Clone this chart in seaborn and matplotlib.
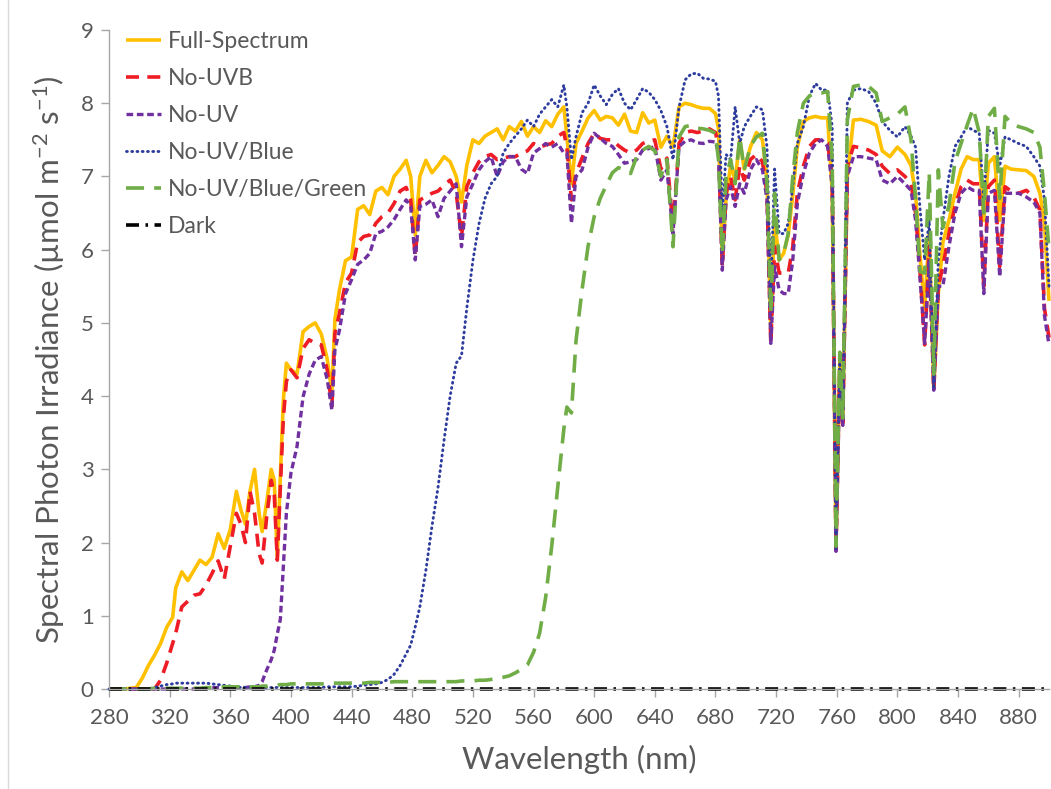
import matplotlib
matplotlib.use("Agg")
import matplotlib.pyplot as plt
import seaborn as sns
from matplotlib.lines import Line2D

# Wavelength grid (nm)
wavelength = [
    280, 290, 298, 302, 306, 310, 314, 318, 322, 324,
    328, 332, 336, 340, 344, 348, 352, 356, 360, 364,
    367, 370, 373, 376, 379, 381, 384, 387, 389, 391,
    393, 395, 397, 400, 404, 408, 412, 416, 420, 424,
    427, 429, 432, 436, 440, 444, 448, 452, 456, 460,
    464, 468, 472, 476, 479, 482, 485, 489, 493, 497,
    501, 505, 509, 512.5, 516, 520, 524, 528, 532, 536,
    540, 544, 548, 552, 556, 560, 564, 568, 572, 576,
    580, 582, 585, 588, 592, 596, 600, 604, 608, 612,
    616, 620, 624, 628, 632, 636, 640, 644, 648, 652,
    656, 660, 664, 668, 672, 676, 680, 682, 684.5, 687,
    690, 693, 696, 699, 703, 707, 711, 714, 716.5, 719,
    722, 725, 728, 731, 734, 738, 742, 746, 750, 754,
    757, 759.5, 762, 764, 767, 771, 776, 781, 786, 790,
    795, 800, 805, 809, 812, 815, 818, 821, 824, 827,
    830, 834, 838, 842, 846, 850, 854, 857, 860, 864,
    867.5, 871, 875, 880, 885, 890, 894, 897, 900,
]

full_spectrum = [
    0, 0, 0.02, 0.15, 0.32, 0.46, 0.62, 0.84, 0.98, 1.38,
    1.60, 1.48, 1.62, 1.76, 1.70, 1.80, 2.12, 1.92, 2.18, 2.70,
    2.45, 2.25, 2.70, 3.00, 2.40, 2.15, 2.55, 3.00, 2.85, 1.80,
    2.90, 3.95, 4.45, 4.36, 4.30, 4.88, 4.95, 5.00, 4.85, 4.50,
    4.05, 5.05, 5.45, 5.85, 5.90, 6.55, 6.60, 6.48, 6.80, 6.85,
    6.75, 7.00, 7.10, 7.22, 7.00, 6.20, 7.00, 7.22, 7.05, 7.15,
    7.27, 7.20, 7.00, 6.65, 7.15, 7.50, 7.45, 7.55, 7.60, 7.65,
    7.50, 7.68, 7.62, 7.75, 7.55, 7.68, 7.60, 7.76, 7.68, 7.85,
    7.95, 7.55, 6.90, 7.45, 7.62, 7.80, 7.90, 7.77, 7.82, 7.80,
    7.70, 7.85, 7.62, 7.60, 7.87, 7.73, 7.77, 7.40, 7.55, 7.40,
    7.95, 8.00, 7.98, 7.95, 7.93, 7.93, 7.86, 7.65, 5.86, 6.70,
    7.15, 6.95, 7.50, 7.10, 7.40, 7.60, 7.50, 6.95, 4.90, 6.40,
    5.86, 5.95, 6.20, 6.75, 7.40, 7.75, 7.80, 7.82, 7.80, 7.80,
    6.80, 1.95, 4.50, 3.70, 7.00, 7.77, 7.78, 7.75, 7.70, 7.35,
    7.27, 7.40, 7.30, 7.15, 6.75, 5.90, 5.20, 6.25, 4.10, 5.40,
    6.10, 6.40, 6.77, 7.10, 7.27, 7.23, 7.23, 6.40, 7.18, 7.27,
    6.40, 7.14, 7.10, 7.09, 7.08, 7.00, 6.77, 6.36, 5.30,
]

no_uvb = [
    0, 0, 0, 0, 0, 0, 0.12, 0.35, 0.62, 0.76,
    1.12, 1.20, 1.28, 1.30, 1.42, 1.58, 1.75, 1.50, 1.95, 2.40,
    2.25, 2.00, 2.70, 2.40, 1.85, 1.72, 2.35, 2.85, 2.65, 1.76,
    2.75, 3.70, 4.20, 4.36, 4.25, 4.65, 4.77, 4.72, 4.70, 4.35,
    3.86, 4.86, 5.13, 5.55, 5.68, 6.10, 6.18, 6.20, 6.36, 6.45,
    6.50, 6.63, 6.80, 6.85, 6.68, 5.90, 6.68, 6.72, 6.77, 6.80,
    6.88, 6.95, 6.77, 6.18, 6.86, 7.05, 7.20, 7.27, 7.30, 7.23,
    7.25, 7.27, 7.27, 7.32, 7.35, 7.45, 7.40, 7.43, 7.45, 7.55,
    7.60, 7.40, 6.68, 7.04, 7.25, 7.45, 7.59, 7.52, 7.50, 7.50,
    7.42, 7.36, 7.32, 7.36, 7.45, 7.48, 7.50, 7.10, 7.25, 6.31,
    7.45, 7.60, 7.62, 7.60, 7.62, 7.65, 7.60, 7.41, 5.77, 6.77,
    7.00, 6.68, 7.14, 6.95, 7.23, 7.30, 7.20, 6.77, 4.72, 6.04,
    5.68, 5.68, 5.68, 6.04, 6.77, 7.14, 7.41, 7.50, 7.50, 7.45,
    7.00, 1.90, 4.40, 3.63, 7.14, 7.41, 7.39, 7.36, 7.30, 7.14,
    7.04, 7.09, 7.00, 6.90, 6.50, 5.68, 4.70, 6.04, 4.08, 5.50,
    5.77, 6.22, 6.59, 6.86, 6.95, 6.90, 6.90, 5.50, 6.86, 6.95,
    5.77, 6.86, 6.80, 6.77, 6.81, 6.72, 6.54, 5.20, 4.80,
]

no_uv = [
    0, 0, 0, 0, 0, 0, 0, 0, 0, 0,
    0, 0, 0, 0.01, 0.01, 0.02, 0.02, 0.02, 0.02, 0.02,
    0.02, 0.02, 0.03, 0.03, 0.05, 0.10, 0.26, 0.40, 0.53, 0.75,
    0.95, 1.67, 2.40, 2.95, 3.31, 3.99, 4.30, 4.49, 4.54, 4.22,
    3.81, 4.63, 4.90, 5.40, 5.59, 5.80, 5.86, 5.95, 6.22, 6.25,
    6.31, 6.41, 6.55, 6.68, 6.59, 5.86, 6.59, 6.62, 6.68, 6.45,
    6.70, 6.80, 6.90, 6.04, 6.72, 6.90, 7.09, 7.20, 7.27, 7.00,
    7.20, 7.27, 7.27, 7.10, 7.04, 7.32, 7.38, 7.45, 7.40, 7.45,
    7.32, 7.32, 6.36, 7.00, 7.09, 7.40, 7.59, 7.52, 7.45, 7.41,
    7.30, 7.18, 7.20, 7.23, 7.36, 7.38, 7.41, 6.95, 7.09, 6.22,
    7.41, 7.48, 7.50, 7.46, 7.45, 7.48, 7.47, 7.32, 5.72, 6.68,
    6.86, 6.59, 6.90, 6.77, 7.09, 7.23, 7.09, 6.68, 4.72, 5.77,
    5.45, 5.40, 5.40, 5.86, 6.63, 7.04, 7.32, 7.45, 7.50, 7.41,
    6.86, 1.88, 4.30, 3.60, 7.00, 7.27, 7.27, 7.25, 7.23, 6.95,
    6.90, 7.00, 6.90, 6.81, 6.40, 5.59, 4.72, 5.86, 4.08, 5.50,
    5.50, 6.04, 6.50, 6.77, 6.86, 6.81, 6.81, 5.40, 6.77, 6.81,
    5.63, 6.77, 6.77, 6.77, 6.72, 6.65, 6.50, 5.10, 4.70,
]

no_uv_blue = [
    0, 0, 0, 0, 0, 0.02, 0.04, 0.06, 0.07, 0.08,
    0.08, 0.08, 0.08, 0.08, 0.08, 0.07, 0.06, 0.05, 0.04, 0.03,
    0.02, 0.02, 0.02, 0.02, 0.02, 0.02, 0.02, 0.02, 0.02, 0.02,
    0.02, 0.02, 0.02, 0.02, 0.02, 0.02, 0.02, 0.02, 0.02, 0.03,
    0.03, 0.03, 0.03, 0.03, 0.03, 0.04, 0.05, 0.06, 0.07, 0.09,
    0.13, 0.20, 0.32, 0.48, 0.60, 0.85, 1.12, 1.62, 2.22, 2.75,
    3.40, 4.00, 4.45, 4.55, 5.20, 5.85, 6.35, 6.70, 6.90, 7.00,
    7.32, 7.45, 7.55, 7.65, 7.77, 7.68, 7.85, 7.95, 8.05, 7.95,
    8.25, 7.95, 7.23, 7.54, 7.87, 8.00, 8.25, 8.10, 7.98, 8.12,
    8.20, 8.00, 7.91, 8.05, 8.20, 8.15, 8.05, 7.90, 7.68, 7.23,
    7.95, 8.32, 8.40, 8.41, 8.34, 8.33, 8.30, 8.10, 6.50, 7.30,
    7.23, 7.95, 7.45, 7.68, 7.82, 7.95, 7.91, 7.40, 5.40, 7.10,
    6.22, 6.22, 6.36, 6.86, 7.45, 7.68, 8.10, 8.27, 8.18, 8.18,
    7.68, 1.92, 4.50, 3.70, 8.00, 8.18, 8.20, 8.16, 8.00, 7.75,
    7.63, 7.54, 7.68, 7.55, 7.40, 6.54, 5.86, 6.40, 4.10, 5.86,
    6.40, 7.00, 7.41, 7.54, 7.68, 7.63, 7.59, 6.68, 7.63, 7.59,
    7.14, 7.54, 7.50, 7.45, 7.41, 7.27, 7.14, 6.68, 5.50,
]

no_uv_blue_green = [
    0, 0, 0, 0, 0, 0.01, 0.01, 0.01, 0.01, 0.01,
    0.01, 0.01, 0.01, 0.01, 0.02, 0.02, 0.03, 0.03, 0.03, 0.03,
    0.03, 0.03, 0.03, 0.03, 0.03, 0.04, 0.04, 0.05, 0.05, 0.05,
    0.06, 0.06, 0.06, 0.07, 0.07, 0.07, 0.07, 0.07, 0.07, 0.07,
    0.08, 0.08, 0.08, 0.08, 0.08, 0.08, 0.08, 0.09, 0.09, 0.09,
    0.09, 0.10, 0.10, 0.10, 0.10, 0.10, 0.10, 0.10, 0.10, 0.10,
    0.10, 0.10, 0.10, 0.11, 0.11, 0.11, 0.12, 0.12, 0.13, 0.14,
    0.16, 0.18, 0.22, 0.27, 0.33, 0.50, 0.76, 1.25, 1.95, 2.76,
    3.55, 3.85, 3.77, 4.75, 5.45, 6.05, 6.45, 6.70, 6.88, 7.05,
    7.12, 7.09, 7.04, 7.27, 7.36, 7.41, 7.35, 7.00, 7.23, 6.04,
    7.54, 7.68, 7.70, 7.66, 7.65, 7.63, 7.59, 7.23, 5.95, 7.00,
    7.23, 6.90, 7.54, 7.09, 7.41, 7.54, 7.59, 6.90, 5.13, 6.77,
    5.86, 5.95, 6.22, 7.00, 7.60, 8.00, 8.10, 8.14, 8.14, 8.16,
    7.23, 1.95, 4.60, 3.70, 7.77, 8.23, 8.25, 8.23, 8.14, 7.75,
    7.80, 7.85, 7.95, 7.50, 6.68, 5.70, 5.68, 7.05, 4.30, 7.09,
    6.30, 6.60, 7.20, 7.45, 7.70, 7.93, 7.60, 6.50, 7.82, 7.93,
    6.70, 7.82, 7.73, 7.68, 7.65, 7.60, 7.40, 6.77, 6.00,
]

# Dark treatment: no light over the whole range
dark_wavelength = [280, 900]
dark = [0.0, 0.0]

series_labels = ["Full-Spectrum", "No-UVB", "No-UV", "No-UV/Blue",
                 "No-UV/Blue/Green", "Dark"]
x_ticks = list(range(280, 881, 40))
y_ticks = list(range(0, 10))

TEXT = "#595959"
AXIS = "#A6A6A6"

sns.set_theme(style="white")
plt.rcParams["font.family"] = ["Lato", "DejaVu Sans"]
plt.rcParams["mathtext.fontset"] = "custom"
plt.rcParams["mathtext.rm"] = "Lato"
plt.rcParams["mathtext.it"] = "Lato:italic"
plt.rcParams["mathtext.bf"] = "Lato:bold"

fig = plt.figure(figsize=(10.51, 7.89), dpi=100)
ax = fig.add_axes([109 / 1051, 1 - 689 / 789, 940 / 1051, 659 / 789])

styles = [
    (wavelength, full_spectrum, "#FFC000", 2.6, None, "butt"),
    (wavelength, no_uvb, "#EE1C25", 2.6, (3.6, 2.3), "butt"),
    (wavelength, no_uv, "#7030A0", 2.4, (2.0, 1.1), "butt"),
    (wavelength, no_uv_blue, "#2E3C9E", 2.1, (0.3, 1.5), "round"),
    (wavelength, no_uv_blue_green, "#70AD47", 2.6, (5.0, 2.8), "butt"),
    (dark_wavelength, dark, "#000000", 2.6, (3.6, 1.8, 0.7, 1.8), "butt"),
]

for label, (xs, ys, color, lw, dash, cap) in zip(series_labels, styles):
    sns.lineplot(x=xs, y=ys, ax=ax, color=color, linewidth=lw, label=label,
                 estimator=None, errorbar=None, sort=False, legend=False)
    line = ax.lines[-1]
    if dash is not None:
        line.set_dashes(dash)
    line.set_dash_capstyle(cap)
    line.set_solid_capstyle("butt")
    line.set_clip_on(False)

ax.set_xlim(280, 900)
ax.set_ylim(0, 9)
ax.set_xticks(x_ticks)
ax.set_yticks(y_ticks)
ax.tick_params(axis="both", bottom=True, left=True, direction="out",
               length=6, width=1, colors=AXIS, labelcolor=TEXT,
               labelsize=16)
ax.tick_params(axis="x", pad=8)
ax.tick_params(axis="y", pad=5)
sns.despine(ax=ax)
for side in ("left", "bottom"):
    ax.spines[side].set_color(AXIS)
    ax.spines[side].set_linewidth(1)

ax.set_xlabel("Wavelength (nm)", fontsize=22.5, color=TEXT, labelpad=12)
ax.set_ylabel(r"Spectral Photon Irradiance (µmol m$^{-2}$ s$^{-1}$)",
              fontsize=22.5, color=TEXT, labelpad=10)

handles = ax.lines[:len(series_labels)]
ax.legend(handles, series_labels, loc="upper left",
          bbox_to_anchor=(0.008, 1.013), frameon=False, fontsize=16.5,
          handlelength=1.55, handletextpad=0.3, labelspacing=0.70,
          borderaxespad=0, labelcolor=TEXT)

fig.add_artist(Line2D([8 / 1051, 8 / 1051], [0, 1], transform=fig.transFigure,
                      color="#D9D9D9", linewidth=1))

fig.savefig("out.png", dpi=100)
